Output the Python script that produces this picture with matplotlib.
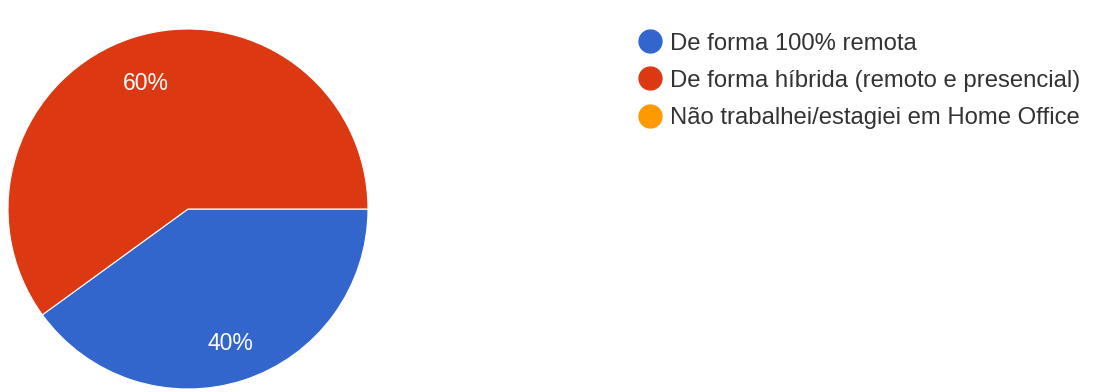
import matplotlib.pyplot as plt
from matplotlib.lines import Line2D

categories = ["De forma 100% remota",
              "De forma híbrida (remoto e presencial)",
              "Não trabalhei/estagiei em Home Office"]
values = [40, 60, 0]
colors = ["#3366cc", "#dc3912", "#ff9900"]

plt.rcParams["font.family"] = ["Liberation Sans", "DejaVu Sans"]

W, H = 1094, 392
fig = plt.figure(figsize=(W / 100, H / 100), dpi=100)

# pie centred at (188, 209) px with radius 180 px
cx, cy, r = 188, 209, 180
ax = fig.add_axes([(cx - r) / W, (H - cy - r) / H, 2 * r / W, 2 * r / H])

shown = [v for v in values if v > 0]
shown_colors = [c for v, c in zip(values, colors) if v > 0]
wedges, texts, autotexts = ax.pie(
    shown, colors=shown_colors, startangle=0, counterclock=False,
    autopct="%d%%", pctdistance=0.76, radius=1,
    wedgeprops=dict(edgecolor="white", linewidth=0.8),
    textprops=dict(color="white", fontsize=16.5))
for t in autotexts:
    x, y = t.get_position()
    t.set_position((x, y - 0.025))
ax.set_xlim(-1, 1)
ax.set_ylim(-1, 1)
ax.set_aspect("equal")
ax.axis("off")

handles = [Line2D([], [], marker="o", linestyle="none", markersize=16.5,
                  markerfacecolor=c, markeredgecolor=c) for c in colors]
fig.legend(handles, categories, loc="upper left",
           bbox_to_anchor=(637.7 / W, 1 - 32.5 / H), frameon=False,
           fontsize=17.2, handlelength=1.0, handletextpad=0.35,
           labelspacing=0.64, borderpad=0, borderaxespad=0,
           labelcolor="#333333")

fig.savefig("out.png", dpi=100)
